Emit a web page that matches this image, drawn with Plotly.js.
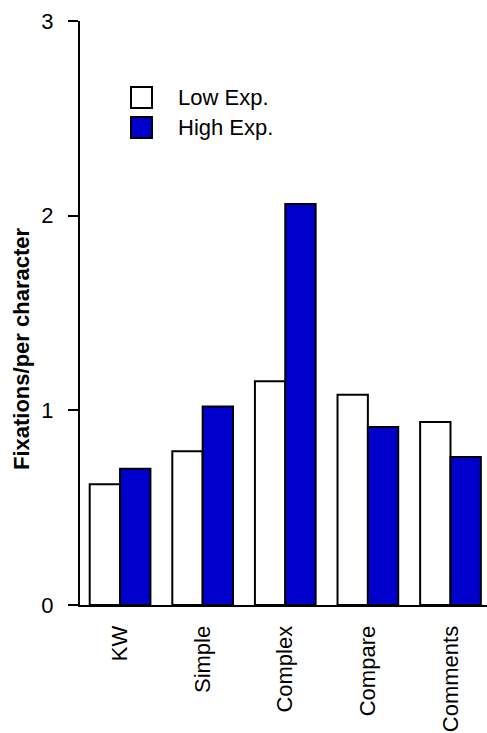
<!DOCTYPE html>
<html>
<head>
<meta charset="utf-8">
<script src="https://cdn.plot.ly/plotly-3.0.1.min.js"></script>
<style>html,body{margin:0;padding:0;background:#fff;}#chart{width:487px;height:733px;}</style>
</head>
<body>
<div id="chart"></div>
<script>
const categories = ["KW", "Simple", "Complex", "Compare", "Comments"];
const lowExp = [0.62, 0.79, 1.15, 1.08, 0.94];
const highExp = [0.70, 1.02, 2.06, 0.915, 0.76];
const seriesNames = ["Low Exp.", "High Exp."];
const seriesColors = ["#FFFFFF", "#0000CC"];
const yTicks = [0, 1, 2, 3];
const yTitle = "Fixations/per character";

const FONT = "Liberation Sans, Arial, Helvetica, sans-serif";

const traces = [lowExp, highExp].map((vals, i) => ({
  type: "bar",
  x: categories,
  y: vals,
  name: seriesNames[i],
  marker: {color: seriesColors[i], line: {color: "#000", width: 2}},
  showlegend: false,
  hoverinfo: "x+y+name"
}));

// manual legend (boxes + labels) in paper coordinates
const shapes = [];
const annotations = [];
const legY = [[0.851, 0.887], [0.7997, 0.8356]];
seriesNames.forEach((nm, i) => {
  shapes.push({type: "rect", xref: "paper", yref: "paper",
    x0: 0.1253, x1: 0.1769, y0: legY[i][0], y1: legY[i][1],
    fillcolor: seriesColors[i], line: {color: "#000", width: 2}});
  annotations.push({xref: "paper", yref: "paper", x: 0.2359, y: (legY[i][0] + legY[i][1]) / 2,
    xanchor: "left", yanchor: "middle", text: nm, showarrow: false,
    font: {family: FONT, size: 22, color: "#000"}});
});
annotations.push({xref: "paper", yref: "paper", x: -0.145, y: 0.44,
  xanchor: "center", yanchor: "middle", textangle: -90, showarrow: false,
  text: "<b>" + yTitle + "</b>", font: {family: FONT, size: 22, color: "#000"}});

const layout = {
  width: 487, height: 733,
  margin: {l: 80, r: 0, t: 21, b: 128, pad: 0},
  paper_bgcolor: "#fff", plot_bgcolor: "#fff",
  font: {family: FONT, size: 22, color: "#000"},
  barmode: "group", bargap: 0.265, bargroupgap: 0,
  showlegend: false,
  xaxis: {
    type: "category", range: [-0.485, 4.442],
    showline: true, linecolor: "#000", linewidth: 2,
    ticks: "", showgrid: false, zeroline: false,
    tickangle: -90, tickfont: {family: FONT, size: 22, color: "#000"},
    ticklabelstandoff: 10
  },
  yaxis: {
    range: [0, 3], tickvals: yTicks, ticktext: yTicks.map(String),
    showline: true, linecolor: "#000", linewidth: 2,
    ticks: "outside", ticklen: 10, tickwidth: 2, tickcolor: "#000",
    showgrid: false, zeroline: false,
    tickfont: {family: FONT, size: 22, color: "#000"},
    ticklabelstandoff: 10
  },
  shapes: shapes,
  annotations: annotations
};

Plotly.newPlot("chart", traces, layout, {displayModeBar: false, staticPlot: true});
</script>
</body>
</html>
